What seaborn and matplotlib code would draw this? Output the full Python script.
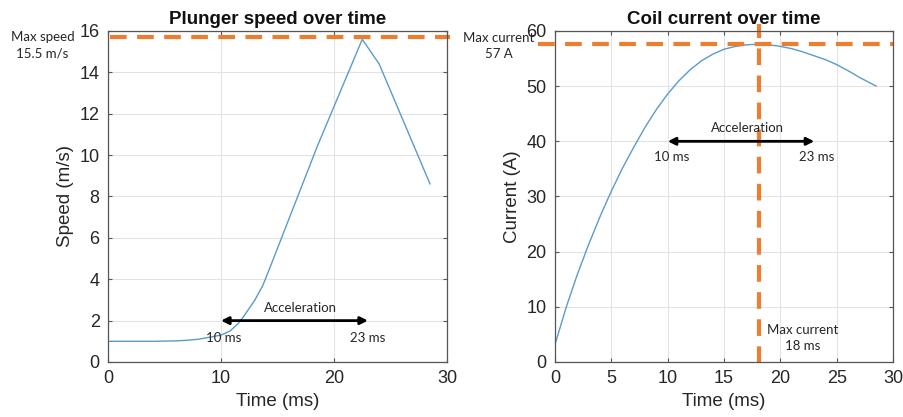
import matplotlib
matplotlib.use("Agg")
import matplotlib.pyplot as plt
import seaborn as sns
import pandas as pd

# ---- data ----
speed_t = [0, 2, 4, 6, 7, 8, 9, 10, 10.8, 11.5, 12, 13, 13.7, 14.5, 15.5, 16.5,
           17.5, 18.5, 19.5, 20.5, 21.5, 22.5, 24, 28.5]
speed_v = [1.0, 1.0, 1.0, 1.02, 1.05, 1.1, 1.2, 1.3, 1.5, 1.85, 2.2, 3.0, 3.7,
           4.8, 6.2, 7.6, 9.0, 10.4, 11.7, 13.0, 14.3, 15.6, 14.4, 8.6]

current_t = [0, 1, 2, 3, 4, 5, 6, 7, 8, 9, 10, 11, 12, 13, 14, 15, 16, 17, 18,
             19, 20, 21, 22, 23, 24, 25, 26, 27, 28.5]
current_i = [3.2, 10.0, 16.0, 21.4, 26.4, 31.0, 35.2, 39.0, 42.6, 45.8, 48.6,
             51.0, 53.0, 54.6, 55.8, 56.7, 57.2, 57.5, 57.6, 57.5, 57.2, 56.8,
             56.2, 55.5, 54.8, 53.9, 52.8, 51.6, 50.0]

max_speed_line = 15.7
max_current_line = 57.7
max_current_time = 18.1
accel_start = 10
accel_end = 23

speed_xticks = [0, 10, 20, 30]
speed_yticks = [0, 2, 4, 6, 8, 10, 12, 14, 16]
current_xticks = [0, 5, 10, 15, 20, 25, 30]
current_yticks = [0, 10, 20, 30, 40, 50, 60]

df_speed = pd.DataFrame({"t": speed_t, "v": speed_v})
df_current = pd.DataFrame({"t": current_t, "i": current_i})

# ---- style ----
sns.set_theme(style="whitegrid")
plt.rcParams["font.family"] = ["Liberation Sans", "DejaVu Sans"]

blue = "#5b9bc9"
orange = "#ed7d31"
ann_font = ["Lato", "DejaVu Sans"]

fig = plt.figure(figsize=(9.04, 4.17), dpi=100)
ax1 = fig.add_axes([0.1195, 0.1319, 0.375, 0.7938])
ax2 = fig.add_axes([0.614, 0.1319, 0.374, 0.7938])


def style_axes(ax, xticks, yticks, xlim, ylim):
    ax.set_facecolor("white")
    ax.set_xlim(*xlim)
    ax.set_ylim(*ylim)
    ax.set_xticks(xticks)
    ax.set_yticks(yticks)
    ax.grid(True, color="#e3e3e3", linewidth=0.8)
    for s in ax.spines.values():
        s.set_visible(True)
        s.set_color("#555555")
        s.set_linewidth(0.9)
    ax.tick_params(axis="both", direction="in", length=3, width=0.8,
                   colors="#555555", labelcolor="#262626", labelsize=13,
                   top=True, right=True, bottom=True, left=True, pad=6)


# ---- left: speed ----
sns.lineplot(data=df_speed, x="t", y="v", ax=ax1, color=blue, linewidth=1.0)
style_axes(ax1, speed_xticks, speed_yticks, (0, 30), (0, 16))
ax1.set_title("Plunger speed over time", fontsize=13.5, fontweight="bold",
              color="#111111", pad=5)
ax1.set_xlabel("Time (ms)", fontsize=13.5, color="#262626")
ax1.set_ylabel("Speed (m/s)", fontsize=13.5, color="#262626", labelpad=4)

ax1.axhline(max_speed_line, xmin=0.005, xmax=1.01, color=orange, linewidth=3,
            dashes=(4, 2.5), clip_on=False)
ax1.text(-5.8, 15.3, "Max speed\n15.5 m/s", ha="center", va="center",
         fontsize=9.5, family=ann_font, linespacing=1.4)
ax1.annotate("", xy=(accel_end, 2), xytext=(accel_start, 2),
             arrowprops=dict(arrowstyle="<|-|>", color="black", lw=2,
                             mutation_scale=11, shrinkA=0, shrinkB=0))
ax1.text(17.0, 2.6, "Acceleration", ha="center", va="center", fontsize=9.5,
         family=ann_font)
ax1.text(10.2, 1.15, "10 ms", ha="center", va="center", fontsize=9.5,
         family=ann_font)
ax1.text(23.0, 1.15, "23 ms", ha="center", va="center", fontsize=9.5,
         family=ann_font)

# ---- right: current ----
sns.lineplot(data=df_current, x="t", y="i", ax=ax2, color=blue, linewidth=1.0)
style_axes(ax2, current_xticks, current_yticks, (0, 30), (0, 60))
ax2.set_title("Coil current over time", fontsize=13.5, fontweight="bold",
              color="#111111", pad=5)
ax2.set_xlabel("Time (ms)", fontsize=13.5, color="#262626")
ax2.set_ylabel("Current (A)", fontsize=13.5, color="#262626", labelpad=4)

ax2.axhline(max_current_line, xmin=-0.05, xmax=1.0, color=orange, linewidth=3,
            dashes=(4, 2.5), clip_on=False)
ax2.axvline(max_current_time, ymin=-0.003, ymax=1.02, color=orange,
            linewidth=3, dashes=(4, 2.5), clip_on=False)
ax2.text(-5.0, 57.3, "Max current\n57 A", ha="center", va="center",
         fontsize=9.5, family=ann_font, linespacing=1.4)
ax2.text(22.0, 4.3, "Max current\n18 ms", ha="center", va="center",
         fontsize=9.5, family=ann_font, linespacing=1.4)
ax2.annotate("", xy=(accel_end, 40), xytext=(accel_start, 40),
             arrowprops=dict(arrowstyle="<|-|>", color="black", lw=2,
                             mutation_scale=11, shrinkA=0, shrinkB=0))
ax2.text(17.1, 42.4, "Acceleration", ha="center", va="center", fontsize=9.5,
         family=ann_font)
ax2.text(10.35, 37.2, "10 ms", ha="center", va="center", fontsize=9.5,
         family=ann_font)
ax2.text(23.2, 37.2, "23 ms", ha="center", va="center", fontsize=9.5,
         family=ann_font)

fig.savefig("out.png", dpi=100, facecolor="white")
